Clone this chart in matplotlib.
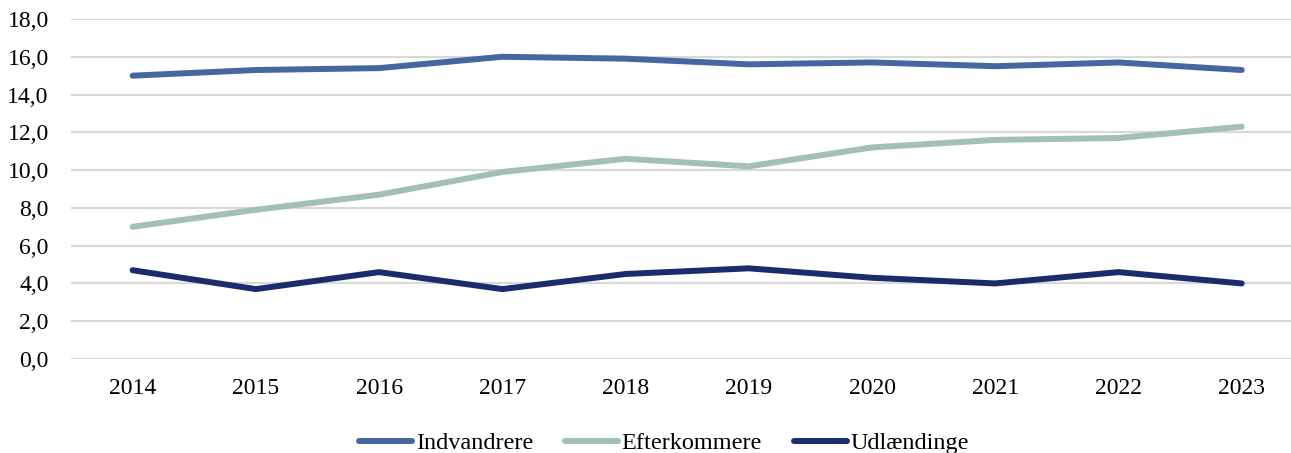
import matplotlib.pyplot as plt

years = ["2014", "2015", "2016", "2017", "2018", "2019", "2020", "2021", "2022", "2023"]
indvandrere = [15.0, 15.3, 15.4, 16.0, 15.9, 15.6, 15.7, 15.5, 15.7, 15.3]
efterkommere = [7.0, 7.9, 8.7, 9.9, 10.6, 10.2, 11.2, 11.6, 11.7, 12.3]
udlaendinge = [4.7, 3.7, 4.6, 3.7, 4.5, 4.8, 4.3, 4.0, 4.6, 4.0]

plt.rcParams["font.family"] = ["Liberation Serif", "DejaVu Serif"]

fig = plt.figure(figsize=(12.91, 4.53), dpi=100)
ax = fig.add_axes([71 / 1291, 94 / 453, 1220 / 1291, 340 / 453])

x = list(range(len(years)))
ax.plot(x, indvandrere, color="#44679F", lw=4.3, solid_capstyle="round", label="Indvandrere")
ax.plot(x, efterkommere, color="#A2BFBA", lw=4.3, solid_capstyle="round", label="Efterkommere")
ax.plot(x, udlaendinge, color="#1A2C6B", lw=4.3, solid_capstyle="round", label="Udlændinge")

ax.set_xlim(-0.5, 9.4)
ax.set_ylim(0, 18)
ax.set_yticks([0, 2, 4, 6, 8, 10, 12, 14, 16, 18])
ax.set_yticklabels([f"{v:.1f}".replace(".", ",") for v in range(0, 19, 2)])
ax.set_xticks(x)
ax.set_xticklabels(years)

ax.grid(axis="y", color="#D9D9D9", lw=1.6)
ax.set_axisbelow(True)
for s in ax.spines.values():
    s.set_visible(False)
ax.tick_params(axis="both", length=0, labelsize=17)
ax.tick_params(axis="y", pad=16)
ax.tick_params(axis="x", pad=14)

ax.legend(
    loc="center",
    bbox_to_anchor=(664 / 1291, 10 / 453),
    bbox_transform=fig.transFigure,
    ncol=3,
    frameon=False,
    fontsize=17.5,
    handlelength=2.2,
    handletextpad=0.15,
    columnspacing=1.3,
)

fig.savefig("out.png", dpi=100)
